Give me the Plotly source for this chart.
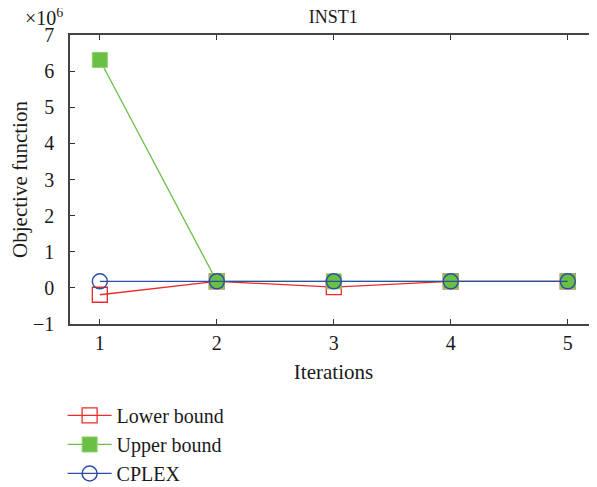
import plotly.graph_objects as go

iterations = [1, 2, 3, 4, 5]
lower_bound = [-0.19, 0.18, 0.02, 0.18, 0.18]   # x10^6
upper_bound = [6.31, 0.18, 0.18, 0.18, 0.18]    # x10^6
cplex = [0.18, 0.18, 0.18, 0.18, 0.18]          # x10^6
y_ticks = [-1, 0, 1, 2, 3, 4, 5, 6, 7]
y_tick_text = ["\u22121", "0", "1", "2", "3", "4", "5", "6", "7"]

RED = "#ee2b2b"
GREEN = "#6abf45"
BLUE = "#2d4fa3"
FONT = "Liberation Serif"

fig = go.Figure()
fig.add_trace(go.Scatter(
    x=iterations, y=lower_bound, name="Lower bound", mode="lines+markers",
    line=dict(color=RED, width=1.3),
    marker=dict(symbol="square-open", size=15, color=RED, line=dict(width=1.3)),
))
fig.add_trace(go.Scatter(
    x=iterations, y=upper_bound, name="Upper bound", mode="lines+markers",
    line=dict(color=GREEN, width=1.3),
    marker=dict(symbol="square", size=15, color=GREEN, line=dict(width=1, color="#8fd06a")),
))
fig.add_trace(go.Scatter(
    x=iterations, y=cplex, name="CPLEX", mode="lines+markers",
    line=dict(color=BLUE, width=1.3),
    marker=dict(symbol="circle-open", size=15, color=BLUE, line=dict(width=1.5)),
))

fig.update_layout(
    width=597, height=487,
    margin=dict(l=62, r=8, t=27, b=171, autoexpand=False),
    paper_bgcolor="white", plot_bgcolor="white",
    font=dict(family=FONT, size=20, color="#1a1a1a"),
    title=dict(text="INST1", x=0.545, xanchor="center", y=0.982, yanchor="middle",
               font=dict(family=FONT, size=18)),
    showlegend=True,
    legend=dict(x=-0.014, xanchor="left", y=-0.249, yanchor="top",
                bgcolor="rgba(0,0,0,0)", font=dict(family=FONT, size=20),
                tracegroupgap=0, itemwidth=44),
    xaxis=dict(range=[0.745, 5.25], tickvals=iterations, ticks="inside", ticklen=5,
               tickcolor="#333", showline=True, linecolor="#444", linewidth=1.5,
               mirror="ticks", showgrid=False, zeroline=False, automargin=False,
               title=dict(text="Iterations", font=dict(family=FONT, size=21), standoff=12),
               tickfont=dict(family=FONT, size=20)),
    yaxis=dict(range=[-1, 7], tickvals=y_ticks, ticktext=y_tick_text, ticks="inside",
               ticklen=5, tickcolor="#333", showline=True, linecolor="#444", linewidth=1.5,
               mirror="ticks", showgrid=False, zeroline=False, automargin=False,
               ticklabelstandoff=10,
               title=dict(text="Objective function", font=dict(family=FONT, size=21), standoff=8),
               tickfont=dict(family=FONT, size=20)),
)
fig.add_annotation(text="\u00d710<sup>6</sup>", xref="paper", yref="paper",
                   x=-0.09, y=1.0, xanchor="left", yanchor="bottom", yshift=4,
                   showarrow=False, font=dict(family=FONT, size=20))

fig.write_html("out.html")
